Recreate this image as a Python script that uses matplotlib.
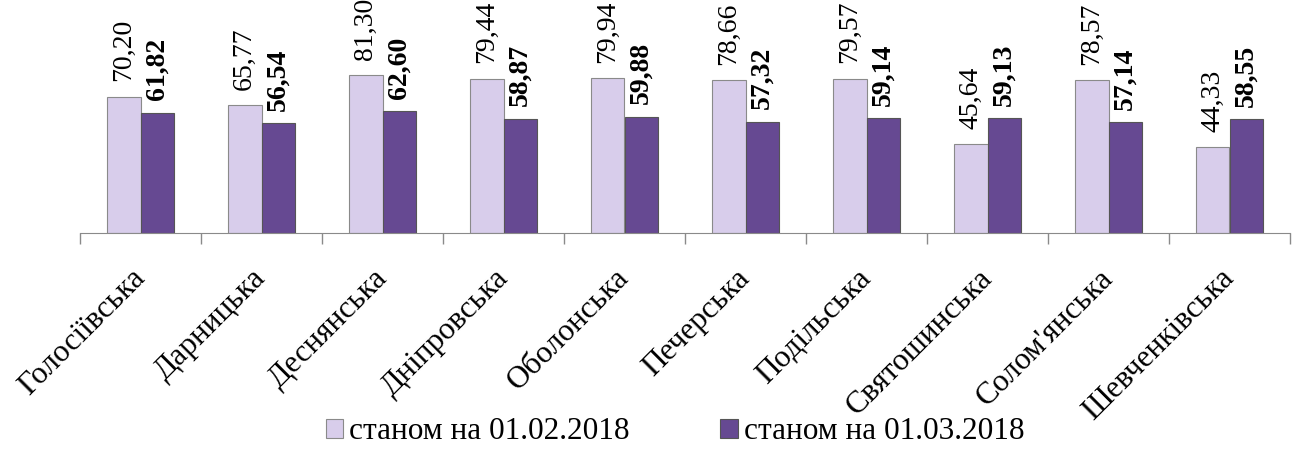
import numpy as np
import matplotlib.pyplot as plt
import matplotlib.transforms as mtransforms
from matplotlib.ticker import FixedLocator

# ======================
# Data
# ======================

districts = [
    "Голосіївська", "Дарницька", "Деснянська", "Дніпровська", "Оболонська",
    "Печерська", "Подільська", "Святошинська", "Солом'янська", "Шевченківська",
]
feb = [70.20, 65.77, 81.30, 79.44, 79.94, 78.66, 79.57, 45.64, 78.57, 44.33]
mar = [61.82, 56.54, 62.60, 58.87, 59.88, 57.32, 59.14, 59.13, 57.14, 58.55]
series_names = ["станом на 01.02.2018", "станом на 01.03.2018"]

# ======================
# Plot
# ======================

plt.rcParams["font.family"] = ["Liberation Serif", "DejaVu Serif"]

fig = plt.figure(figsize=(12.97, 4.51), dpi=100)
ax = fig.add_axes([80 / 1297, 1 - 233 / 451, 1210 / 1297, 233 / 451])

x = np.arange(len(districts))
w = 0.28
light = "#d8cdeb"
dark = "#664992"

ax.bar(x - w / 2, feb, w, color=light, edgecolor="#8a8a8a", linewidth=0.8,
       label=series_names[0])
ax.bar(x + w / 2, mar, w, color=dark, edgecolor="#555555", linewidth=0.8,
       label=series_names[1])

# value labels, rotated; second series in bold
for xi, v in zip(x, feb):
    ax.annotate(f"{v:.2f}".replace(".", ","), (xi - w / 2, v),
                xytext=(0, 11), textcoords="offset points",
                rotation=90, ha="center", va="bottom", fontsize=20)
for xi, v in zip(x, mar):
    ax.annotate(f"{v:.2f}".replace(".", ","), (xi + w / 2, v),
                xytext=(0, 9), textcoords="offset points",
                rotation=90, ha="center", va="bottom", fontsize=20,
                fontweight="bold")

ax.set_xlim(-0.5, len(districts) - 0.5)
ax.set_ylim(0, 120)
ax.set_yticks([])

ax.set_xticks(x)
ax.set_xticklabels(districts, rotation=45, ha="right", rotation_mode="anchor",
                   fontsize=22.5)
ax.tick_params(axis="x", which="major", length=0, pad=22)
shift = mtransforms.ScaledTranslation(-10 / 100, 0, fig.dpi_scale_trans)
for lbl in ax.get_xticklabels():
    lbl.set_transform(lbl.get_transform() + shift)

# tick marks between categories
ax.xaxis.set_minor_locator(FixedLocator(np.arange(-0.5, len(districts), 1)))
ax.tick_params(axis="x", which="minor", length=8, color="#8a8a8a", width=1)

for s in ["top", "right", "left"]:
    ax.spines[s].set_visible(False)
ax.spines["bottom"].set_color("#8a8a8a")

fig.legend(loc="lower center", bbox_to_anchor=(0.5205, -0.052), ncol=2,
           frameon=False, fontsize=22.5, handlelength=0.55, handleheight=0.55,
           handletextpad=0.2, columnspacing=2.9)

fig.savefig("out.png", dpi=100)
